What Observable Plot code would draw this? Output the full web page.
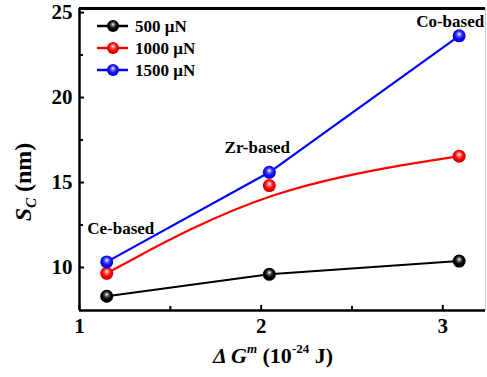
<!DOCTYPE html>
<html><head><meta charset="utf-8">
<script src="https://cdn.jsdelivr.net/npm/d3@7"></script>
<script src="https://cdn.jsdelivr.net/npm/@observablehq/plot@0.6"></script>
<style>
body{margin:0;background:#fff}
#chart svg text{font-family:"Liberation Serif","Times New Roman",serif;font-weight:bold}
</style>
</head><body><div id="chart"></div>
<script>
const categories = ["Ce-based", "Zr-based", "Co-based"];
const dG = [1.15, 2.045, 3.09];
const series = ["500 μN", "1000 μN", "1500 μN"];
const colors = ["#000000", "#ff0000", "#0000ff"];
const s500 = [8.31, 9.6, 10.38];
const s1000 = [9.66, 14.82, 16.55];
const s1500 = [10.33, 15.6, 23.63];
const yTicks = [10, 15, 20, 25];
const yMinor = [12.5, 17.5, 22.5];
const xTicks = [1, 2, 3];
const xMinor = [1.5, 2.5];

const values = [s500, s1000, s1500];
const data = [];
series.forEach((s, i) => values[i].forEach((v, j) => data.push({series: s, x: dG[j], y: v, cat: categories[j], idx: i})));
const grads = ["gK", "gR", "gB"];
const font = "Liberation Serif";
const W = 487, H = 377;
const ml = 79, mr = 2, mt = 8, mb = 67;

const byS = i => data.filter(d => d.idx === i);
const labelPos = [{dx: 14, dy: -33}, {dx: -12, dy: -25}, {dx: -9, dy: -14}];

const plot = Plot.plot({
  width: W, height: H,
  marginLeft: ml, marginRight: mr, marginTop: mt, marginBottom: mb,
  style: {fontFamily: font, fontWeight: "bold", fontSize: "21px", color: "#000", background: "#fff"},
  x: {domain: [1, 3.235]},
  y: {domain: [7.47, 25.24]},
  marks: [
    Plot.axisY({ticks: yTicks, tickSize: -5, tickPadding: 12, strokeWidth: 2, label: null, tickFormat: d => String(d), fontSize: 21}),
    Plot.axisY({ticks: yMinor, tickSize: -4, tickFormat: () => "", strokeWidth: 2, label: null}),
    Plot.axisX({ticks: xTicks, tickSize: -5, tickPadding: 13, strokeWidth: 2, label: null, tickFormat: d => String(d), fontSize: 21}),
    Plot.axisX({ticks: xMinor, tickSize: -4, tickFormat: () => "", strokeWidth: 2, label: null}),
    Plot.ruleX([1], {stroke: "#000", strokeWidth: 2.5}),
    Plot.ruleY([7.47], {stroke: "#000", strokeWidth: 2.5}),
    Plot.ruleY([25.24], {stroke: "#000", strokeWidth: 3}),
    Plot.ruleX([3.235], {stroke: "#cccccc", strokeWidth: 1}),
    Plot.line(byS(0), {x: "x", y: "y", stroke: colors[0], strokeWidth: 2, curve: "linear"}),
    Plot.line(byS(1), {x: "x", y: "y", stroke: colors[1], strokeWidth: 2.2, curve: "basis"}),
    Plot.line(byS(2), {x: "x", y: "y", stroke: colors[2], strokeWidth: 2.2, curve: "linear"}),
    ...[0, 1, 2].map(i => Plot.dot(byS(i), {x: "x", y: "y", r: 6.5, fill: `url(#${grads[i]})`, stroke: "none"})),
    ...[0, 1, 2].map(j => Plot.text([{x: dG[j], y: s1500[j], t: categories[j]}], {x: "x", y: "y", text: "t", dx: labelPos[j].dx, dy: labelPos[j].dy, fontSize: 17, fontWeight: "bold", fill: "#000"}))
  ]
});

const svg = d3.select(plot);
svg.selectAll('g[aria-label$="tick label"]').attr("font-size", 21);
svg.selectAll('g[aria-label$="tick label"] text').attr("font-size", 21);
const defs = svg.insert("defs", ":first-child");
const base = [["#000", "#555", "#000"], ["#ff0000", "#ff6060", "#c00000"], ["#1010ff", "#6060ff", "#0000c0"]];
grads.forEach((g, i) => {
  const rg = defs.append("radialGradient").attr("id", g).attr("cx", "50%").attr("cy", "45%").attr("r", "55%").attr("fx", "50%").attr("fy", "35%");
  rg.append("stop").attr("offset", "0%").attr("stop-color", "#ffffff");
  rg.append("stop").attr("offset", "30%").attr("stop-color", base[i][1]);
  rg.append("stop").attr("offset", "60%").attr("stop-color", base[i][0]);
  rg.append("stop").attr("offset", "100%").attr("stop-color", base[i][2]);
});

// legend
const lg = svg.append("g").attr("font-size", 17).attr("text-anchor", "start");
series.forEach((s, i) => {
  const y = 26 + i * 22;
  lg.append("line").attr("x1", 97).attr("x2", 128).attr("y1", y).attr("y2", y).attr("stroke", colors[i]).attr("stroke-width", 2.5);
  lg.append("circle").attr("cx", 113).attr("cy", y).attr("r", 6).attr("fill", `url(#${grads[i]})`);
  lg.append("text").attr("x", 135).attr("y", y + 6).attr("text-anchor", "start").text(s);
});

// axis titles
const xl = svg.append("text").attr("x", 273).attr("y", 363).attr("text-anchor", "middle").attr("font-size", 22);
xl.append("tspan").attr("font-style", "italic").text("Δ G");
xl.append("tspan").attr("font-style", "italic").attr("font-size", 13).attr("dy", -10).text("m");
xl.append("tspan").attr("dy", 10).text(" (10");
xl.append("tspan").attr("font-size", 13).attr("dy", -10).text("-24");
xl.append("tspan").attr("dy", 10).text(" J)");

const yl = svg.append("text").attr("transform", "translate(31,182) rotate(-90)").attr("text-anchor", "middle").attr("font-size", 24);
yl.append("tspan").attr("font-style", "italic").text("S");
yl.append("tspan").attr("font-style", "italic").attr("font-size", 15).attr("dy", 5).text("C");
yl.append("tspan").attr("dy", -5).text(" (nm)");

document.getElementById("chart").append(plot);
</script></body></html>
